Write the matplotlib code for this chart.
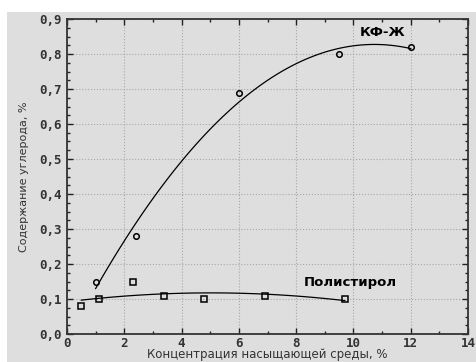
import numpy as np
import matplotlib
matplotlib.use("Agg")
import matplotlib.pyplot as plt
from matplotlib.patches import Rectangle
from matplotlib.ticker import MultipleLocator, FuncFormatter

# Messwerte KF-Ж
x_kf = np.array([1.0, 2.4, 6.0, 9.5, 12.0])
y_kf = np.array([0.15, 0.28, 0.69, 0.80, 0.82])

# Messwerte Полистирол
x_ps = np.array([0.5, 1.1, 2.3, 3.4, 4.8, 6.9, 9.7])
y_ps = np.array([0.08, 0.10, 0.15, 0.11, 0.10, 0.11, 0.10])

bg = "#dedede"

fig = plt.figure(figsize=(4.76, 3.62), dpi=100, facecolor="white")
fig.patches.append(Rectangle((7/476, 0), 1, (362-12)/362, transform=fig.transFigure,
                             facecolor=bg, edgecolor="none", zorder=-10))

ax = fig.add_axes([67/476, 28/362, (468-67)/476, (334-19)/362])
ax.set_facecolor(bg)

# Ausgleichskurven (Polynom 2. Grades)
c_kf = np.polyfit(x_kf, y_kf, 2)
xx = np.linspace(x_kf.min(), x_kf.max(), 100)
ax.plot(xx, np.polyval(c_kf, xx), color="black", lw=0.9)

c_ps = np.polyfit(x_ps, y_ps, 2)
xx = np.linspace(x_ps.min(), x_ps.max(), 100)
ax.plot(xx, np.polyval(c_ps, xx), color="black", lw=0.9)

ax.plot(x_kf, y_kf, "o", mfc="none", mec="black", ms=4, mew=1.1)
ax.plot(x_ps, y_ps, "s", mfc="none", mec="black", ms=4, mew=1.1)

ax.text(11.0, 0.86, "КФ-Ж", fontsize=9.5, fontweight="bold", ha="center", va="center")
ax.text(9.9, 0.148, "Полистирол", fontsize=9.5, fontweight="bold", ha="center", va="center")

ax.set_xlim(0, 14)
ax.set_ylim(0, 0.9)
ax.xaxis.set_major_locator(MultipleLocator(2))
ax.xaxis.set_minor_locator(MultipleLocator(1))
ax.yaxis.set_major_locator(MultipleLocator(0.1))
ax.yaxis.set_minor_locator(MultipleLocator(0.025))
ax.yaxis.set_major_formatter(FuncFormatter(lambda v, p: f"{v:.1f}".replace(".", ",")))

ax.tick_params(which="both", direction="in", top=True, right=True, colors="#222222")
ax.tick_params(which="major", length=4, width=1)
ax.tick_params(which="minor", length=2.5, width=1)
ax.tick_params(axis="x", pad=2)
for lab in ax.get_xticklabels() + ax.get_yticklabels():
    lab.set_family("DejaVu Sans Mono")
    lab.set_fontweight("bold")
    lab.set_fontsize(9)
    lab.set_color("#333333")

for s in ax.spines.values():
    s.set_linewidth(1.3)
    s.set_color("#333333")

ax.grid(True, which="major", linestyle=":", color="#a8a8a8", lw=0.8)

ax.set_ylabel("Содержание углерода, %", fontsize=8, labelpad=8, color="#333333")
ax.set_xlabel("Концентрация насыщающей среды, %", fontsize=8.5, labelpad=-1, color="#333333")

plt.savefig("out.png", dpi=100, facecolor=fig.get_facecolor())
